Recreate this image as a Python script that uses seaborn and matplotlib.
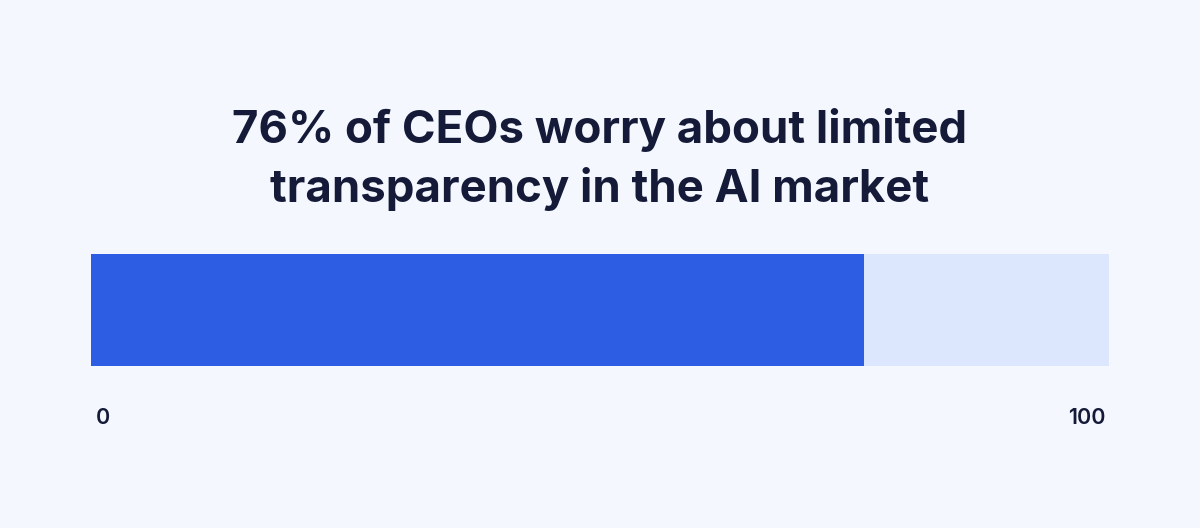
import matplotlib
matplotlib.use("Agg")
import matplotlib.pyplot as plt
import seaborn as sns
import pandas as pd

# Data
title = "76% of CEOs worry about limited\ntransparency in the AI market"
category = ["CEOs"]
share = [76]
total = [100]
tick_values = [0, 100]
tick_labels = ["0", "100"]

bg = "#F4F8FE"
blue = "#2D5DE3"
light = "#DCE7FD"
navy = "#141A38"

sns.set_theme(style="white")
plt.rcParams["font.family"] = ["Inter", "DejaVu Sans"]

df = pd.DataFrame({"group": category, "share": share, "total": total})

fig = plt.figure(figsize=(12, 5.28), dpi=100, facecolor=bg)
ax = fig.add_axes([0.0758, 0.3068, 0.8481, 0.2116])
ax.set_facecolor(bg)

sns.barplot(data=df, x="total", y="group", orient="h", color=light,
            width=1.0, ax=ax, saturation=1, linewidth=0)
sns.barplot(data=df, x="share", y="group", orient="h", color=blue,
            width=1.0, ax=ax, saturation=1, linewidth=0)

ax.set_xlim(0, 100)
ax.set_ylim(0.5, -0.5)
ax.set_xlabel("")
ax.set_ylabel("")
ax.set_xticks([])
ax.set_yticks([])
sns.despine(ax=ax, left=True, bottom=True)

# end labels below the bar
offsets = [(5, -52), (-3, -52)]
aligns = ["left", "right"]
for v, lab, off, ha in zip(tick_values, tick_labels, offsets, aligns):
    ax.annotate(lab, xy=(v, 0.5), xycoords="data", xytext=off,
                textcoords="offset pixels", ha=ha, va="center",
                fontsize=15.5, fontweight="semibold", color=navy)

fig.text(0.5, 1 - 211 / 528, title, ha="center", va="bottom",
         fontsize=32.8, fontweight="bold", color=navy, linespacing=1.42)

fig.savefig("out.png", dpi=100, facecolor=bg)
